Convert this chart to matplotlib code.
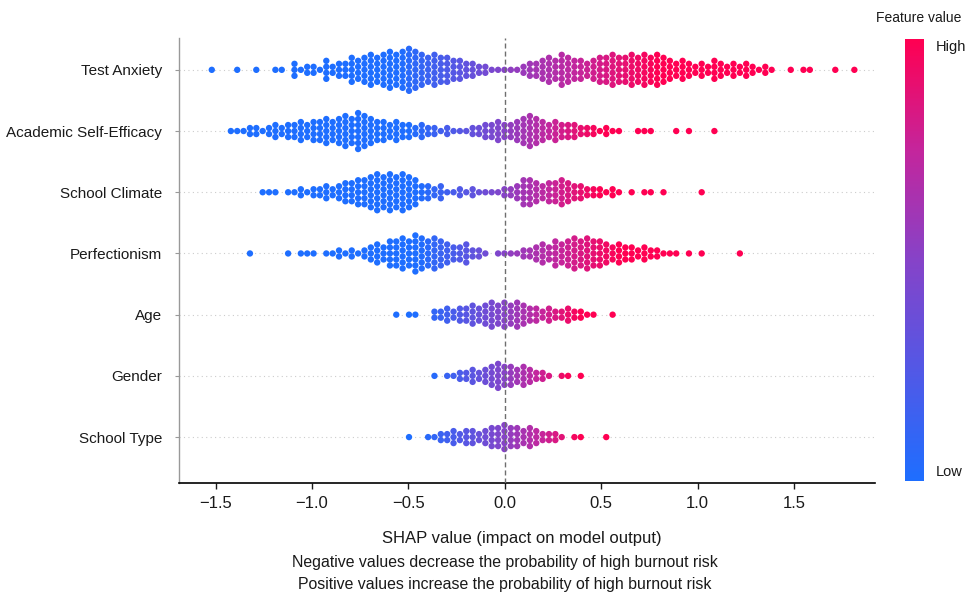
import numpy as np
import matplotlib
matplotlib.use('Agg')
import matplotlib.pyplot as plt
from matplotlib.colors import LinearSegmentedColormap
from matplotlib.cm import ScalarMappable

plt.rcParams['font.family'] = ['Liberation Sans', 'DejaVu Sans']

# features, top to bottom
features = ['Test Anxiety', 'Academic Self-Efficacy', 'School Climate',
            'Perfectionism', 'Age', 'Gender', 'School Type']

# beeswarm: number of dots stacked in each column,
# columns are 0.033 SHAP units apart, starting at the *_from value
col_step = 0.033

test_anxiety_from = -1.52
test_anxiety = [1, 0, 0, 0, 1, 0, 0, 1, 0, 0,
                1, 1, 0, 3, 1, 2, 2, 1, 4, 2,
                3, 3, 5, 4, 5, 6, 5, 6, 7, 6,
                7, 8, 7, 6, 5, 6, 5, 5, 4, 4,
                3, 3, 2, 2, 1, 1, 1, 1, 1, 2,
                3, 3, 4, 5, 4, 6, 5, 4, 4, 3,
                4, 5, 5, 6, 5, 5, 6, 5, 6, 5,
                6, 5, 4, 3, 4, 3, 2, 3, 2, 4,
                3, 2, 3, 2, 3, 2, 1, 2, 1, 0,
                0, 1, 0, 1, 1, 0, 0, 0, 1, 0,
                0, 1]

academic_from = -1.421
academic = [1, 1, 1, 2, 2, 1, 2,
            3, 2, 3, 3, 4, 3, 4, 4, 5, 4,
            5, 6, 5, 7, 6, 5, 4, 4, 3, 4,
            3, 3, 2, 3, 2, 2, 1, 2, 1, 1,
            1, 2, 2, 3, 3, 4, 3, 3, 4, 5,
            6, 5, 4, 3, 4, 3, 3, 3, 2, 2,
            2, 1, 2, 1, 1, 0, 0, 1, 1, 1,
            0, 0, 0, 1, 0, 1, 0, 0, 0, 1]

climate_from = -1.256
climate = [1, 1,
           1, 0, 1, 1, 2, 1, 2, 2, 3, 2,
           3, 4, 4, 5, 5, 6, 7, 6, 7, 6,
           7, 6, 5, 3, 3, 2, 3, 1, 1, 2,
           1, 2, 1, 1, 1, 1, 2, 2, 3, 5,
           5, 4, 3, 4, 4, 5, 4, 3, 3, 2,
           2, 2, 1, 2, 1, 0, 1, 0, 1, 1,
           0, 1, 0, 0, 0, 0, 0, 1]

perfectionism_from = -1.322
perfectionism = [1, 0, 0, 0,
                 0, 0, 1, 0, 1, 1, 1, 0, 1, 1,
                 2, 1, 2, 1, 2, 3, 4, 3, 5, 5,
                 6, 5, 7, 6, 5, 6, 5, 4, 3, 3,
                 4, 2, 2, 1, 0, 1, 1, 1, 1, 2,
                 2, 3, 4, 3, 5, 4, 5, 6, 5, 6,
                 5, 5, 4, 3, 4, 3, 3, 2, 3, 2,
                 2, 1, 1, 1, 0, 1, 0, 1, 0, 0,
                 0, 0, 0, 1]

age_from = -0.563
age = [1,
       0, 1, 1, 0, 0, 2, 2, 3, 2, 3,
       3, 4, 3, 4, 5, 4, 5, 4, 5, 4,
       3, 3, 2, 3, 2, 2, 3, 2, 2, 1,
       1, 0, 0, 1]

gender_from = -0.365
gender = [1, 0, 1, 1, 2,
          2, 3, 2, 3, 4, 5, 4, 4, 3, 4,
          3, 2, 2, 1, 0, 1, 1, 0, 1]

school_type_from = -0.497
school_type = [1, 0, 0, 1, 1, 2, 2, 3, 2,
               3, 3, 2, 3, 4, 4, 5, 4, 4, 3,
               4, 3, 2, 2, 2, 1, 0, 1, 1, 0,
               0, 0, 1]

all_counts = [test_anxiety, academic, climate, perfectionism, age, gender, school_type]
all_from = [test_anxiety_from, academic_from, climate_from, perfectionism_from,
            age_from, gender_from, school_type_from]

# SHAP value where the dots become fully blue / fully red
blue_at = [-0.55, -0.5, -0.45, -0.45, -0.45, -0.4, -0.45]
red_at = [0.8, 0.5, 0.5, 0.6, 0.4, 0.35, 0.4]

cmap = LinearSegmentedColormap.from_list(
    'shap_like', ['#1e6eff', '#5258e6', '#8643c8', '#c4259c', '#ff0052'])

fig = plt.figure(figsize=(9.66, 5.94), dpi=100)
ax = fig.add_axes([179 / 966, 1 - 483 / 594, 696 / 966, 445 / 594])

n = len(features)
dot_gap = 0.098
for i, name in enumerate(features):
    row = n - 1 - i
    ax.axhline(row, color='#cccccc', lw=0.8, dashes=(1, 3), zorder=0)
    xs, ys, ts = [], [], []
    for k, c in enumerate(all_counts[i]):
        v = all_from[i] + k * col_step
        if v < 0:
            t = 0.5 * (1 - min(v / blue_at[i], 1))
        else:
            t = 0.52 + 0.48 * min(v / red_at[i], 1)
        for j in range(c):
            xs.append(v)
            ys.append(row + (j - (c - 1) / 2) * dot_gap)
            ts.append(t)
    ax.scatter(xs, ys, s=21, c=cmap(np.array(ts)), linewidths=0, zorder=2)

ax.axvline(0, color='#6e6e6e', lw=1, ls=(0, (3.6, 2.2)), zorder=3)

ax.set_xlim(-1.69, 1.92)
ax.set_ylim(-0.75, 6.52)
ax.set_yticks(range(n))
ax.set_yticklabels(features[::-1], fontsize=11, color='#1a1a1a')
ax.set_xticks([-1.5, -1.0, -0.5, 0.0, 0.5, 1.0, 1.5])
ax.set_xticklabels(['\u22121.5', '\u22121.0', '\u22120.5', '0.0', '0.5', '1.0', '1.5'])
ax.tick_params(axis='x', labelsize=12, length=4, width=1, pad=5, colors='#1a1a1a')
ax.tick_params(axis='y', length=3, width=0.8, color='#999999', pad=9)
ax.spines['top'].set_visible(False)
ax.spines['right'].set_visible(False)
ax.spines['left'].set_color('#999999')
ax.spines['left'].set_linewidth(1)
ax.spines['bottom'].set_linewidth(1.2)

fig.text(522 / 966, 1 - 539 / 594, 'SHAP value (impact on model output)',
         ha='center', va='center', fontsize=12, color='#1a1a1a')
fig.text(505 / 966, 1 - 563 / 594, 'Negative values decrease the probability of high burnout risk',
         ha='center', va='center', fontsize=11.4, color='#1a1a1a')
fig.text(505 / 966, 1 - 584 / 594, 'Positive values increase the probability of high burnout risk',
         ha='center', va='center', fontsize=11.4, color='#1a1a1a')

# colour bar
cax = fig.add_axes([905 / 966, 1 - 481 / 594, 19 / 966, 442 / 594])
cb = fig.colorbar(ScalarMappable(cmap=cmap), cax=cax)
cb.set_ticks([])
cb.outline.set_visible(False)
fig.text(919 / 966, 1 - 18 / 594, 'Feature value', ha='center', va='center',
         fontsize=10, color='#1a1a1a')
fig.text(936 / 966, 1 - 47 / 594, 'High', ha='left', va='center', fontsize=10.5, color='#1a1a1a')
fig.text(936 / 966, 1 - 472 / 594, 'Low', ha='left', va='center', fontsize=10.5, color='#1a1a1a')

fig.savefig('out.png', dpi=100)
